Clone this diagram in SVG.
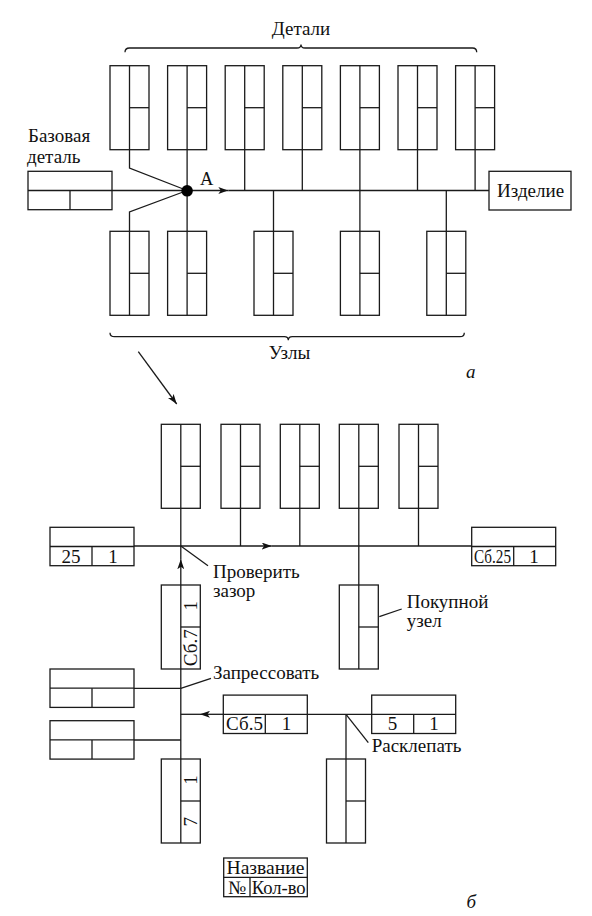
<svg xmlns="http://www.w3.org/2000/svg" xmlns:xlink="http://www.w3.org/1999/xlink" width="592" height="916" viewBox="0 0 592 916" font-family="Liberation Serif, Times New Roman, serif">
<style>
  .bx { fill: #fff; stroke: #1a1a1a; stroke-width: 1.3; }
  .ln { fill: none; stroke: #1a1a1a; stroke-width: 1.3; }
  text { font-size: 19px; fill: #111; }
  .c { text-anchor: middle; }
  .i { font-style: italic; }
</style>
<defs>
  <g id="vbox">
    <rect class="bx" x="0" y="0" width="39" height="84"/>
    <line class="ln" x1="19.5" y1="0" x2="19.5" y2="84"/>
    <line class="ln" x1="19.5" y1="42" x2="39" y2="42"/>
  </g>
  <g id="hbox">
    <rect class="bx" x="0" y="0" width="84" height="38.4"/>
    <line class="ln" x1="0" y1="19.2" x2="84" y2="19.2"/>
    <line class="ln" x1="42" y1="19.2" x2="42" y2="38.4"/>
  </g>
  <marker id="arr" viewBox="0 0 10 7" refX="10" refY="3.5" markerWidth="10" markerHeight="7" markerUnits="userSpaceOnUse" orient="auto">
    <path d="M0,0 L10,3.5 L0,7 L2.5,3.5 z" fill="#111"/>
  </marker>
</defs>

<!-- ===== a ===== -->
<g id="connectors-a">
  <line class="ln" x1="111.3" y1="190.5" x2="228.3" y2="190.5" marker-end="url(#arr)"/>
  <line class="ln" x1="228.3" y1="190.5" x2="489" y2="190.5"/>
  <polyline class="ln" points="129.5,149.7 129.5,168 187.1,190.5"/>
  <line class="ln" x1="187.1" y1="149.7" x2="187.1" y2="231.3"/>
  <line class="ln" x1="244.7" y1="149.7" x2="244.7" y2="190.5"/>
  <line class="ln" x1="302.3" y1="149.7" x2="302.3" y2="190.5"/>
  <line class="ln" x1="359.9" y1="149.7" x2="359.9" y2="190.5"/>
  <line class="ln" x1="417.5" y1="149.7" x2="417.5" y2="190.5"/>
  <line class="ln" x1="475.1" y1="149.7" x2="475.1" y2="190.5"/>
  <polyline class="ln" points="129.5,231.3 129.5,212 187.1,190.5"/>
  <line class="ln" x1="273.5" y1="231.3" x2="273.5" y2="190.5"/>
  <line class="ln" x1="359.9" y1="231.3" x2="359.9" y2="190.5"/>
  <line class="ln" x1="446.3" y1="231.3" x2="446.3" y2="190.5"/>
  <circle cx="187.1" cy="190.8" r="5.8" fill="#000"/>
  <line class="ln" x1="138.3" y1="351.7" x2="176.7" y2="404" marker-end="url(#arr)"/>
</g>

<g id="details">
  <use xlink:href="#vbox" x="110" y="65.7"/>
  <use xlink:href="#vbox" x="167.6" y="65.7"/>
  <use xlink:href="#vbox" x="225.2" y="65.7"/>
  <use xlink:href="#vbox" x="282.8" y="65.7"/>
  <use xlink:href="#vbox" x="340.4" y="65.7"/>
  <use xlink:href="#vbox" x="398" y="65.7"/>
  <use xlink:href="#vbox" x="455.6" y="65.7"/>
</g>
<g id="units">
  <use xlink:href="#vbox" x="110" y="231.3"/>
  <use xlink:href="#vbox" x="167.6" y="231.3"/>
  <use xlink:href="#vbox" x="254" y="231.3"/>
  <use xlink:href="#vbox" x="340.4" y="231.3"/>
  <use xlink:href="#vbox" x="426.8" y="231.3"/>
</g>
<g id="base-part">
  <use xlink:href="#hbox" x="28" y="171.3"/>
  <text x="28" y="142">Базовая</text>
  <text x="27" y="163">деталь</text>
</g>
<g id="product">
  <rect class="bx" x="489" y="171.3" width="82" height="38.7"/>
  <text x="497" y="197">Изделие</text>
</g>
<g id="labels-a">
  <text x="200" y="184.5" style="font-size:18.5px">A</text>
  <path class="ln" d="M125,52.3 Q125,48 129.5,48 L297,48 Q301,48 301,44.5 Q301,48 305,48 L472.5,48 Q476.7,48 476.7,52.3"/>
  <text class="c" x="301" y="35">Детали</text>
  <path class="ln" d="M110,332.7 Q110,336.7 114.5,336.7 L284.3,336.7 Q288.3,336.7 288.3,340.3 Q288.3,336.7 292.3,336.7 L460,336.7 Q464.3,336.7 464.3,332.7"/>
  <text class="c" x="289.5" y="359">Узлы</text>
  <text class="i" x="466" y="378">а</text>
</g>

<!-- ===== б ===== -->
<g id="connectors-b">
  <line class="ln" x1="134" y1="546" x2="271.7" y2="546" marker-end="url(#arr)"/>
  <line class="ln" x1="271.7" y1="546" x2="471.7" y2="546"/>
  <line class="ln" x1="180.8" y1="508.3" x2="180.8" y2="546"/>
  <line class="ln" x1="180.8" y1="585" x2="180.8" y2="559.3" marker-end="url(#arr)"/>
  <line class="ln" x1="180.8" y1="559.3" x2="180.8" y2="546"/>
  <line class="ln" x1="180.8" y1="669" x2="180.8" y2="759"/>
  <line class="ln" x1="240.5" y1="508.3" x2="240.5" y2="546"/>
  <line class="ln" x1="299.8" y1="508.3" x2="299.8" y2="546"/>
  <line class="ln" x1="358.8" y1="508.3" x2="358.8" y2="585"/>
  <line class="ln" x1="418.5" y1="508.3" x2="418.5" y2="546"/>
  <line class="ln" x1="134" y1="688.3" x2="180.8" y2="688.3"/>
  <line class="ln" x1="134" y1="740" x2="180.8" y2="740"/>
  <line class="ln" x1="223.3" y1="714.3" x2="200" y2="714.3" marker-end="url(#arr)"/>
  <line class="ln" x1="200" y1="714.3" x2="180.8" y2="714.3"/>
  <line class="ln" x1="307.3" y1="714.3" x2="371.7" y2="714.3"/>
  <line class="ln" x1="346" y1="714.3" x2="346" y2="759"/>
  <line class="ln" x1="180.8" y1="546" x2="208" y2="565.7"/>
  <line class="ln" x1="379.3" y1="616.7" x2="401.7" y2="609"/>
  <line class="ln" x1="180.8" y1="688.3" x2="211" y2="678.3"/>
  <line class="ln" x1="346" y1="714.3" x2="368.3" y2="742.7"/>
</g>

<g id="top-row-b">
  <use xlink:href="#vbox" x="161.3" y="424.3"/>
  <use xlink:href="#vbox" x="221" y="424.3"/>
  <use xlink:href="#vbox" x="280.3" y="424.3"/>
  <use xlink:href="#vbox" x="339.3" y="424.3"/>
  <use xlink:href="#vbox" x="399" y="424.3"/>
</g>
<g id="node-25">
  <use xlink:href="#hbox" x="50" y="527.3"/>
  <text class="c" x="71" y="563">25</text>
  <text class="c" x="113" y="563">1</text>
</g>
<g id="node-sb25">
  <use xlink:href="#hbox" x="471.7" y="527.3"/>
  <text class="c" x="492.5" y="562.5" textLength="37" lengthAdjust="spacingAndGlyphs">Сб.25</text>
  <text class="c" x="534" y="563">1</text>
</g>
<g id="label-check">
  <text x="213" y="578">Проверить</text>
  <text x="213" y="597">зазор</text>
</g>
<g id="node-bought">
  <use xlink:href="#vbox" x="339.3" y="585"/>
  <text x="406.7" y="608">Покупной</text>
  <text x="406.7" y="627">узел</text>
</g>
<g id="node-sb7">
  <use xlink:href="#vbox" x="161.3" y="585"/>
  <text class="c" transform="translate(197,605.8) rotate(-90)">1</text>
  <text class="c" transform="translate(197,647.8) rotate(-90)" textLength="37" lengthAdjust="spacingAndGlyphs">Сб.7</text>
</g>
<g id="node-left1">
  <use xlink:href="#hbox" x="50" y="669"/>
  <text x="213" y="679">Запрессовать</text>
</g>
<g id="node-left2">
  <use xlink:href="#hbox" x="50" y="720.7"/>
</g>
<g id="node-sb5">
  <use xlink:href="#hbox" x="223.3" y="695.1"/>
  <text class="c" x="244.5" y="730">Сб.5</text>
  <text class="c" x="286.5" y="730">1</text>
</g>
<g id="node-5">
  <use xlink:href="#hbox" x="371.7" y="695.1"/>
  <text class="c" x="392.5" y="730">5</text>
  <text class="c" x="434" y="730">1</text>
  <text x="371.7" y="752">Расклепать</text>
</g>
<g id="node-rivet">
  <use xlink:href="#vbox" x="326.5" y="759"/>
</g>
<g id="node-7">
  <use xlink:href="#vbox" x="161.3" y="759"/>
  <text class="c" transform="translate(197,780) rotate(-90)">1</text>
  <text class="c" transform="translate(197,821.7) rotate(-90)">7</text>
</g>
<g id="legend">
  <rect class="bx" x="223.7" y="858" width="83.6" height="38.7"/>
  <line class="ln" x1="223.7" y1="877.3" x2="307.3" y2="877.3"/>
  <line class="ln" x1="250" y1="877.3" x2="250" y2="896.7"/>
  <text class="c" x="265.5" y="874" textLength="78" lengthAdjust="spacingAndGlyphs">Название</text>
  <text class="c" x="237" y="893.5">№</text>
  <text class="c" x="278.7" y="893.5" textLength="54" lengthAdjust="spacingAndGlyphs">Кол-во</text>
</g>
<text class="i" x="466.5" y="908">б</text>
</svg>
